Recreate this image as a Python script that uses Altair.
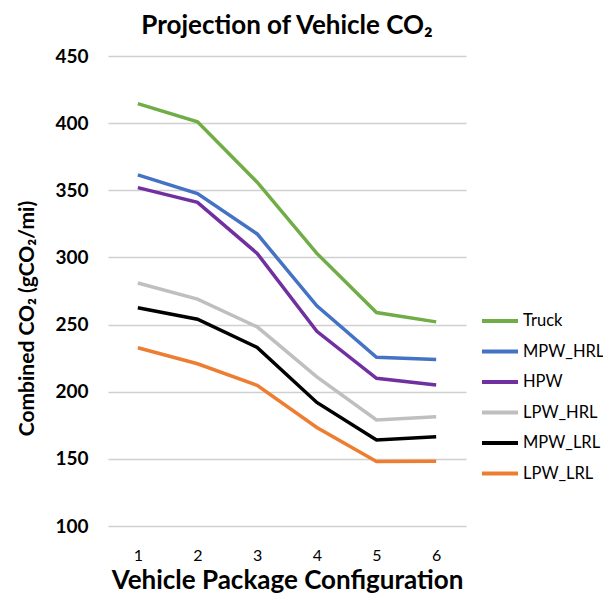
import altair as alt
import pandas as pd

configs = [1, 2, 3, 4, 5, 6]
series_names = ["Truck", "MPW_HRL", "HPW", "LPW_HRL", "MPW_LRL", "LPW_LRL"]
truck = [414.5, 401, 356, 303, 259, 252]
mpw_hrl = [361.5, 347.5, 317.5, 264, 225.7, 224]
hpw = [352, 341, 303, 245, 210, 205]
lpw_hrl = [281, 269, 248.3, 211, 179, 181.3]
mpw_lrl = [262.5, 254, 233, 192, 164, 166.5]
lpw_lrl = [232.7, 220.8, 204.7, 173.4, 148, 148.2]
colors = ["#70AD47", "#4472C4", "#7030A0", "#BFBFBF", "#000000", "#ED7D31"]

values = [truck, mpw_hrl, hpw, lpw_hrl, mpw_lrl, lpw_lrl]
rows = []
for name, vals in zip(series_names, values):
    for c, v in zip(configs, vals):
        rows.append({"config": c, "series": name, "co2": v})
df = pd.DataFrame(rows)

FONT = "Lato"

chart = alt.Chart(df).mark_line(strokeWidth=3.5).encode(
    x=alt.X("config:O", title="Vehicle Package Configuration",
            scale=alt.Scale(type="point", padding=0.5),
            axis=alt.Axis(labelAngle=0, labelFontSize=16, labelFont=FONT, labelColor="#000",
                          labelPadding=21, ticks=False, domain=False,
                          titleFont=FONT, titleFontSize=26, titleFontWeight="bold", titleColor="#000",
                          titlePadding=4)),
    y=alt.Y("co2:Q", title="Combined CO₂ (gCO₂/mi)",
            scale=alt.Scale(domain=[100, 450], nice=False, zero=False),
            axis=alt.Axis(values=[100, 150, 200, 250, 300, 350, 400, 450], labelFontSize=19,
                          labelFont=FONT, labelFontWeight="bold", labelColor="#000", labelPadding=20,
                          ticks=False, domain=False, gridColor="#D0D0D0", gridWidth=1.5,
                          titleFont=FONT, titleFontSize=21, titleFontWeight="bold", titleColor="#000",
                          titleX=-81, titleY=262, titleAngle=270, titleAlign="center",
                          titleBaseline="middle")),
    color=alt.Color("series:N", sort=series_names,
                    scale=alt.Scale(domain=series_names, range=colors),
                    legend=alt.Legend(title=None, orient="none", legendX=372, legendY=245,
                                      symbolType="stroke", symbolSize=1296, symbolStrokeWidth=4,
                                      labelFont=FONT, labelFontSize=16.5, labelColor="#000",
                                      rowPadding=1.5, labelOffset=3)),
).properties(
    width=358, height=470,
    padding={"left": 100, "top": 48, "right": 137, "bottom": 69},
    autosize=alt.AutoSizeParams(type="none"),
    title=alt.TitleParams("Projection of Vehicle CO₂", font=FONT, fontSize=26, fontWeight="bold",
                          color="#000", offset=8, anchor="middle"),
).configure_view(stroke=None)

chart.save("out.html", embed_options={"renderer": "svg", "actions": False})
